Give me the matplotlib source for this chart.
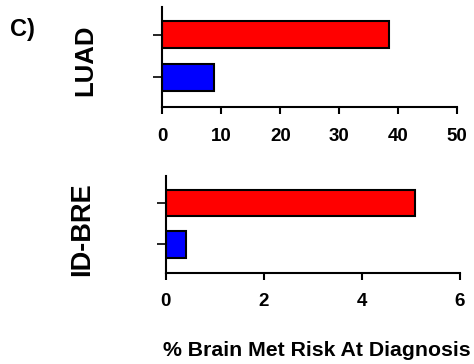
import matplotlib
matplotlib.use("Agg")
import matplotlib.pyplot as plt

plt.rcParams['font.family'] = ['Liberation Sans', 'DejaVu Sans']
plt.rcParams['font.weight'] = 'bold'

# data: first entry is the lower (blue) bar, second the upper (red) bar
groups = ['LUAD', 'ID-BRE']
luad_vals = [8.7, 38.5]
idbre_vals = [0.41, 5.08]
bar_colors = ['#0000FF', '#FF0000']
luad_ticks = [0, 10, 20, 30, 40, 50]
idbre_ticks = [0, 2, 4, 6]

fig = plt.figure(figsize=(4.74, 3.64), dpi=100)
ax1 = fig.add_axes([0.3428, 0.7069, 0.6213, 0.2739])
ax2 = fig.add_axes([0.3496, 0.2492, 0.6209, 0.2673])


def style(ax, vals, ticks, name, lab_xy, pad, lab_size):
    ax.barh([0, 1], vals, height=0.64, color=bar_colors,
            edgecolor='black', linewidth=1.5)
    ax.set_xlim(ticks[0], ticks[-1])
    ax.set_ylim(-0.7, 1.66)
    ax.set_xticks(ticks)
    ax.set_yticks([0, 1])
    ax.set_yticklabels([])
    for s in ['top', 'right']:
        ax.spines[s].set_visible(False)
    for s in ['left', 'bottom']:
        ax.spines[s].set_linewidth(1.5)
    ax.tick_params(axis='x', length=5, width=1.5, pad=pad, labelsize=13.5)
    ax.tick_params(axis='y', length=6.5, width=1.2)
    for t in ax.get_xticklabels():
        t.set_fontweight('bold')
    ax.set_ylabel(name, fontsize=lab_size, fontweight='bold')
    ax.yaxis.set_label_coords(*lab_xy)


style(ax1, luad_vals, luad_ticks, groups[0], (-0.223, 0.468), 10.5, 18.5)
style(ax2, idbre_vals, idbre_ticks, groups[1], (-0.240, 0.455), 9.5, 19.5)

ax2.set_xlabel('% Brain Met Risk At Diagnosis', fontsize=15.3, fontweight='bold')
ax2.xaxis.set_label_coords(0.513, -0.70)

fig.text(0.047, 0.92, 'C)', fontsize=17, fontweight='bold', ha='center', va='center')

fig.savefig('out.png', dpi=100)
